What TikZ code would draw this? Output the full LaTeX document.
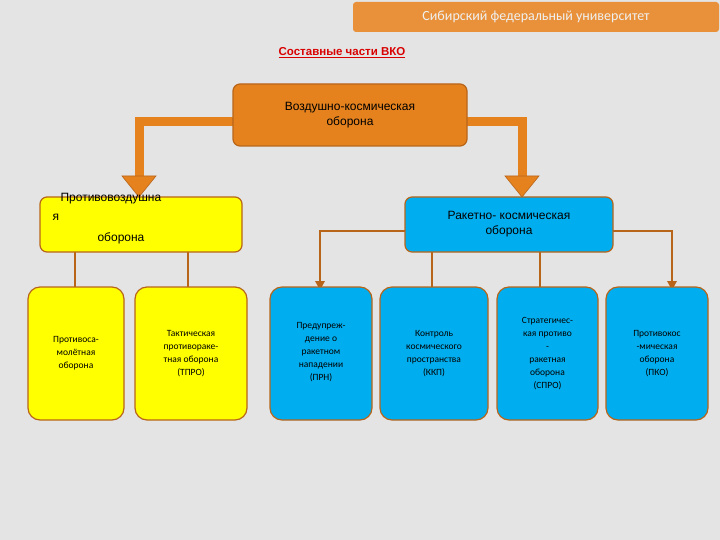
\documentclass[tikz,border=0pt]{standalone}
\usepackage{fontspec}
\setmainfont{Liberation Sans}
\newfontfamily\carl{Carlito}
\usetikzlibrary{arrows.meta}
\definecolor{bg}{HTML}{E4E4E4}
\definecolor{org}{HTML}{E5821E}
\definecolor{orgl}{HTML}{E8913A}
\definecolor{brd}{HTML}{B8651A}
\definecolor{yel}{HTML}{FFFF00}
\definecolor{blu}{HTML}{00AEEF}
\tikzset{
 box/.style={draw=brd,line width=1.2pt,rounded corners=7pt,inner sep=2pt,align=center},
 low/.style={box,rounded corners=12pt,font=\carl\fontsize{9.5}{13}\selectfont},
 thick arr/.style={draw=org,line width=9pt},
 thin/.style={draw=brd,line width=2pt},
}
\begin{document}
\begin{tikzpicture}[x=1pt,y=-1pt]
\fill[bg] (0,0) rectangle (720,540);
\useasboundingbox (0,0) rectangle (720,540);
\node[fill=orgl,rounded corners=3pt,minimum width=366pt,minimum height=30pt,text=white!88!gray,font=\carl\fontsize{14}{16}\selectfont] (hdr) at (536,17) {Сибирский федеральный университет};
\node[text=red!85!black,font=\bfseries\fontsize{11.5}{14}\selectfont] (ttl) at (342,53) {\underline{Составные части ВКО}};
% thick arrows
\coordinate (la) at (139,176); \coordinate (ra) at (522,176);
\draw[thick arr] (300,122) -| (la);
\draw[thick arr] (400,122) -| (ra);
\fill[org,draw=brd,line width=0.6pt] (122,176)--(156,176)--(139,197)--cycle;
\fill[org,draw=brd,line width=0.6pt] (505,176)--(539,176)--(522,197)--cycle;
\node[box,fill=org,minimum width=234pt,minimum height=62pt,font=\fontsize{12}{15}\selectfont] (vko) at (350,115) {Воздушно-космическая\\оборона};
% thin lines
\draw[thin] (75,250)--(75,287); \draw[thin] (188,250)--(188,287);
\draw[thin] (405,231)-|(320,282); \draw[thin] (613,231)-|(672,282);
\draw[thin] (432,250)--(432,287); \draw[thin] (540,250)--(540,287);
\fill[brd] (315,281)--(325,281)--(320,290)--cycle;
\fill[brd] (667,281)--(677,281)--(672,290)--cycle;
\node[box,fill=yel,minimum width=202pt,minimum height=55pt] (pvo) at (141,224.5) {};
\node[font=\fontsize{12}{14}\selectfont,anchor=west] (p1) at (57,199) {Противовоздушна};
\node[font=\fontsize{12}{14}\selectfont,anchor=west] (p2) at (49,217) {я};
\node[font=\fontsize{12}{14}\selectfont,anchor=west] (p3) at (94,238) {оборона};
\node[box,fill=blu,minimum width=208pt,minimum height=55pt,font=\fontsize{12}{15}\selectfont] (rko) at (509,224.5) {Ракетно- космическая\\оборона};
% lower boxes
\node[low,fill=yel,minimum width=96pt,minimum height=133pt] (b1) at (76,353.5) {Противоса-\\молётная\\оборона};
\node[low,fill=yel,minimum width=112pt,minimum height=133pt] (b2) at (191,353.5) {Тактическая\\противораке-\\тная оборона\\(ТПРО)};
\node[low,fill=blu,minimum width=102pt,minimum height=133pt] (b3) at (321,353.5) {\raisebox{22pt}{}Предупреж-\\дение о\\ракетном\\нападении\\(ПРН)\\[8pt]};
\node[low,fill=blu,minimum width=108pt,minimum height=133pt] (b4) at (434,353.5) {Контроль\\космического\\пространства\\(ККП)};
\node[low,fill=blu,minimum width=101pt,minimum height=133pt] (b5) at (547.5,353.5) {Стратегичес-\\кая противо\\-\\ракетная\\оборона\\(СПРО)};
\node[low,fill=blu,minimum width=102pt,minimum height=133pt] (b6) at (657,353.5) {Противокос\\-мическая\\оборона\\(ПКО)};
\end{tikzpicture}
\end{document}
